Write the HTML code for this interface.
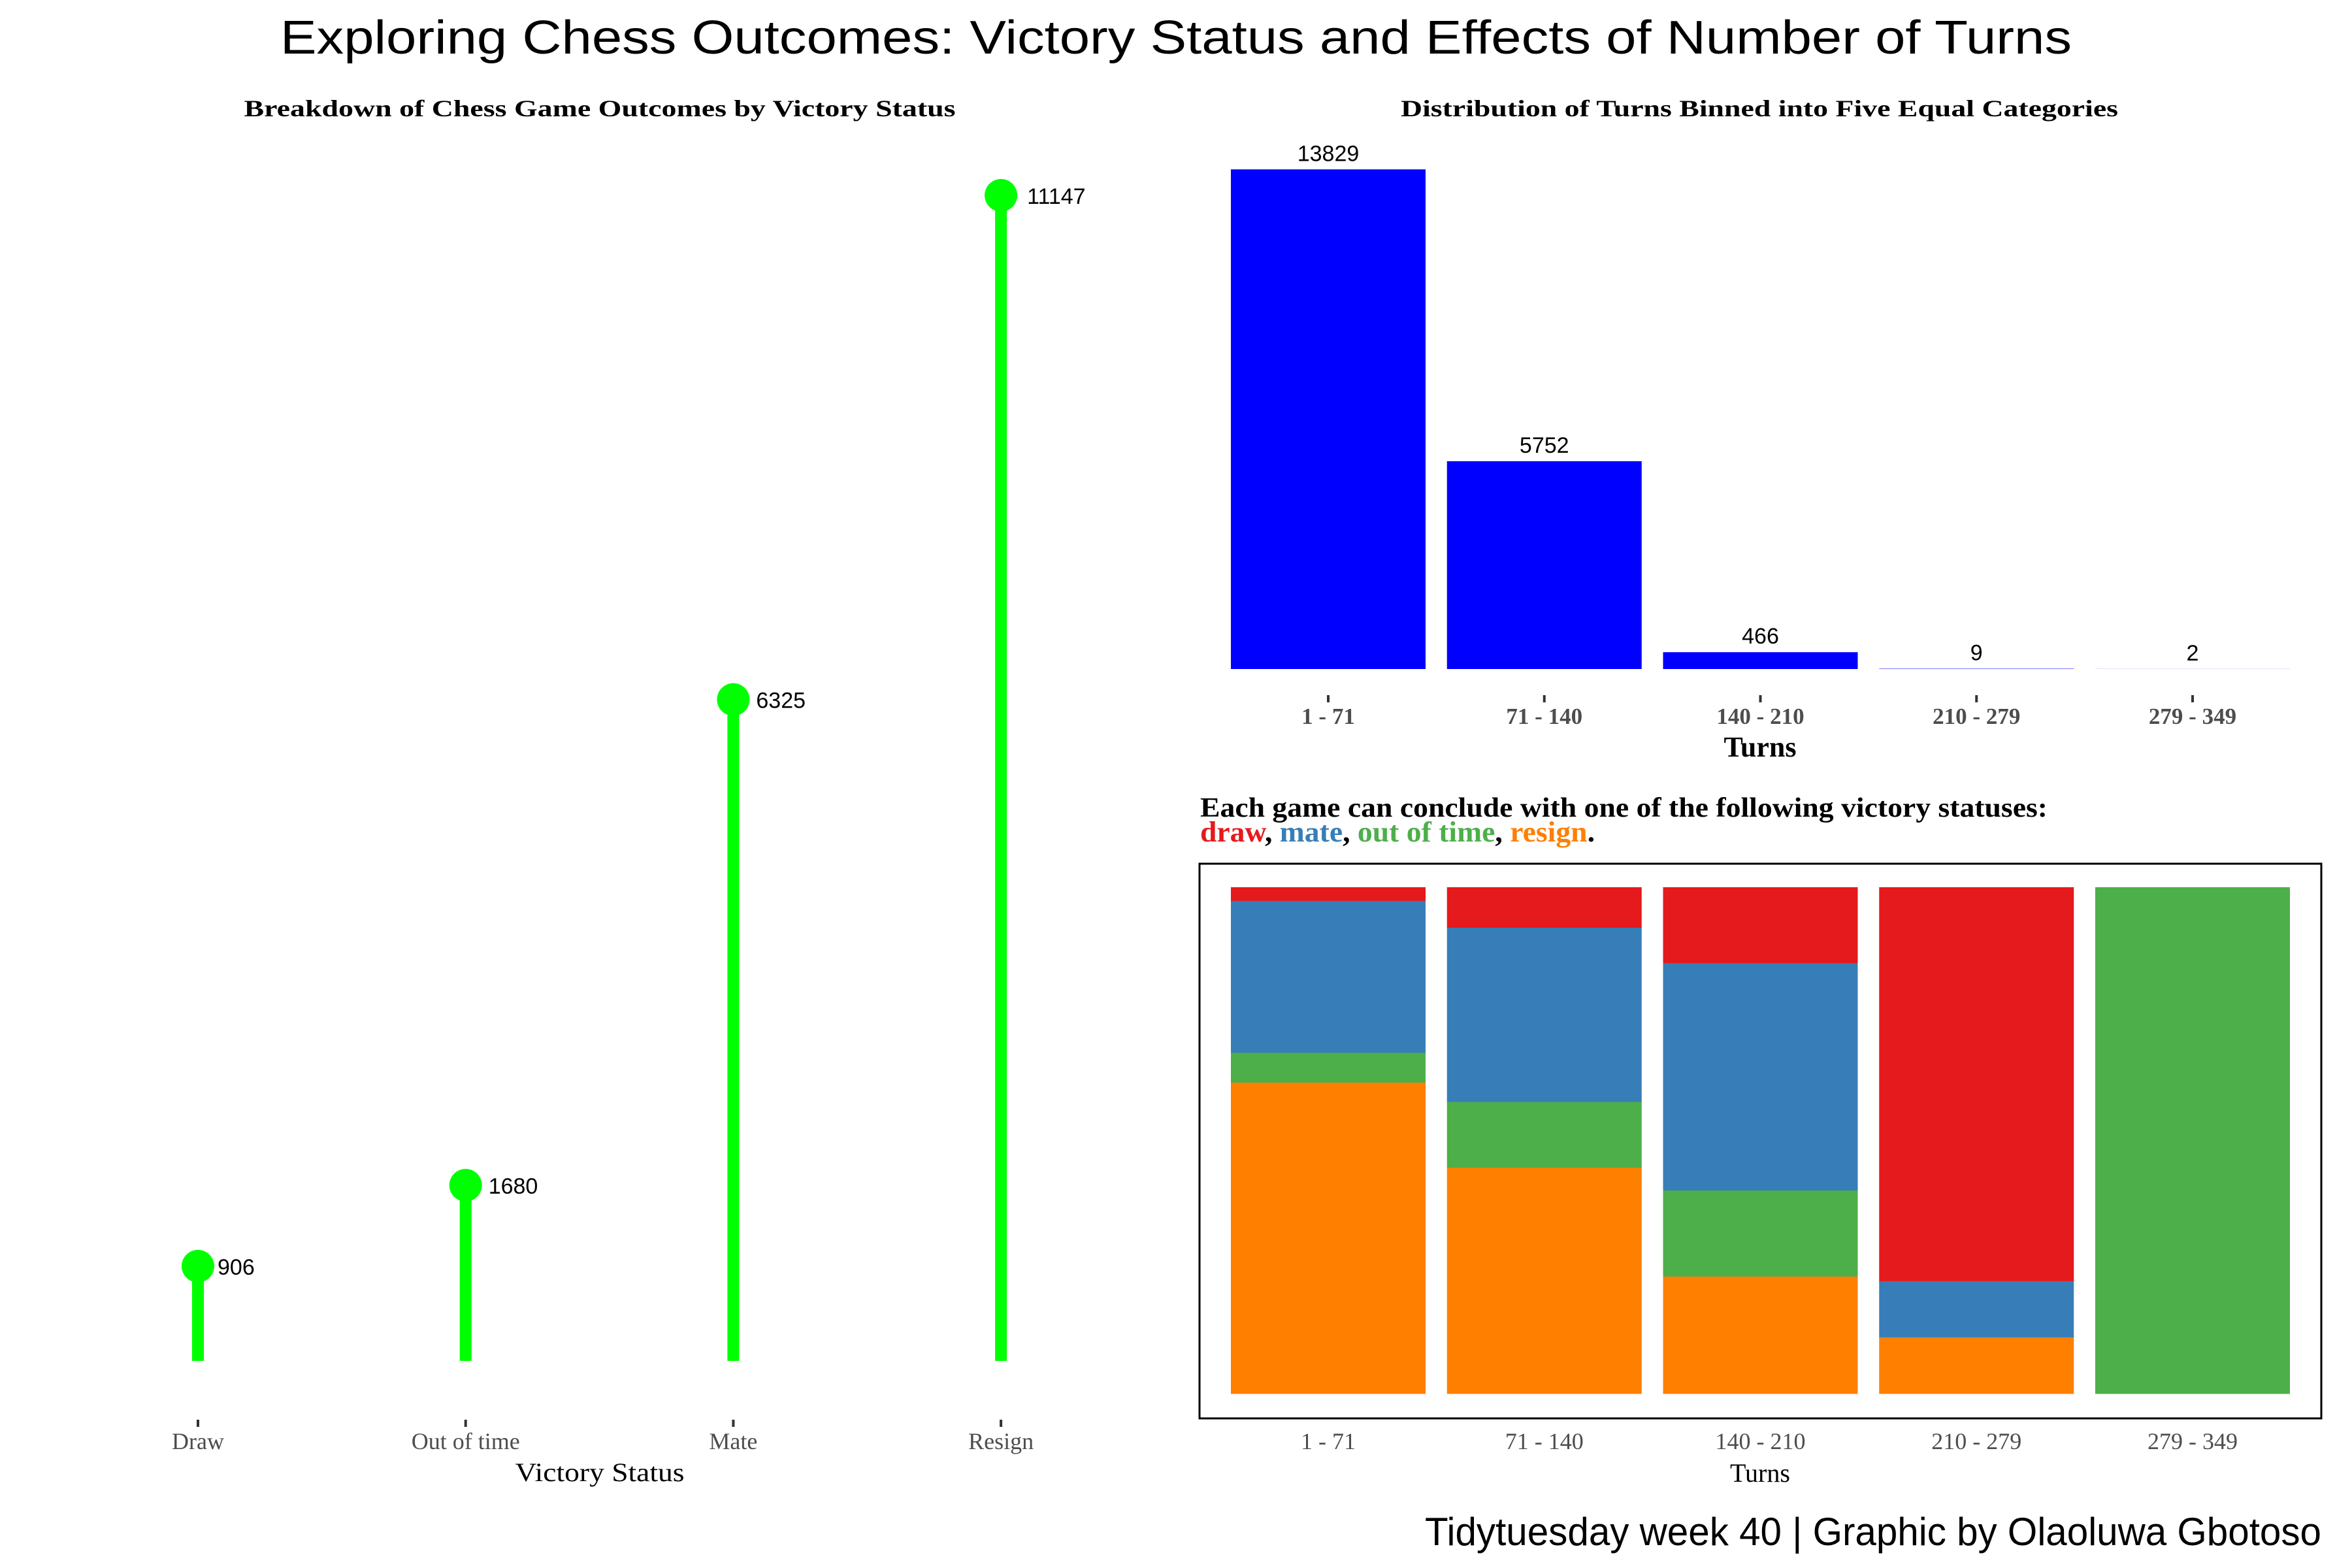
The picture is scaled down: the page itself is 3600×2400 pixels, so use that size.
<!DOCTYPE html>
<html><head><meta charset="utf-8"><style>
html,body{margin:0;padding:0;background:#fff}
svg{display:block}
</style></head><body>
<svg id="chart" width="3600" height="2400" viewBox="0 0 3600 2400" xmlns="http://www.w3.org/2000/svg">
<rect width="3600" height="2400" fill="#fff"/>
<text x="1800" y="82" text-anchor="middle" font-family="Liberation Sans, sans-serif" font-size="72" textLength="2742" lengthAdjust="spacingAndGlyphs">Exploring Chess Outcomes: Victory Status and Effects of Number of Turns</text>
<text x="918" y="178" text-anchor="middle" font-family="Liberation Serif, serif" font-weight="bold" font-size="36" textLength="1089" lengthAdjust="spacingAndGlyphs">Breakdown of Chess Game Outcomes by Victory Status</text>
<text x="2693" y="178" text-anchor="middle" font-family="Liberation Serif, serif" font-weight="bold" font-size="36" textLength="1098" lengthAdjust="spacingAndGlyphs">Distribution of Turns Binned into Five Equal Categories</text>
<g id="lolli"></g>
<text x="918" y="2267" text-anchor="middle" font-family="Liberation Serif, serif" font-size="40" textLength="259" lengthAdjust="spacingAndGlyphs">Victory Status</text>
<g id="hist"></g>
<text x="2694" y="1158" text-anchor="middle" font-family="Liberation Serif, serif" font-weight="bold" font-size="44">Turns</text>
<text x="1837" y="1250" font-family="Liberation Serif, serif" font-weight="bold" font-size="42" textLength="1297" lengthAdjust="spacingAndGlyphs">Each game can conclude with one of the following victory statuses:</text>
<text x="1837" y="1288" font-family="Liberation Serif, serif" font-weight="bold" font-size="44" textLength="604" lengthAdjust="spacingAndGlyphs"><tspan fill="#E41A1C">draw</tspan>, <tspan fill="#377EB8">mate</tspan>, <tspan fill="#4DAF4A">out of time</tspan>, <tspan fill="#FF7F00">resign</tspan>.</text>
<rect x="1836" y="1322" width="1717" height="849" fill="none" stroke="#000" stroke-width="3"/>
<g id="stack"></g>
<text x="2694" y="2268" text-anchor="middle" font-family="Liberation Serif, serif" font-size="40">Turns</text>
<text x="3553" y="2365" text-anchor="end" font-family="Liberation Sans, sans-serif" font-size="60" textLength="1372" lengthAdjust="spacingAndGlyphs">Tidytuesday week 40 | Graphic by Olaoluwa Gbotoso</text>
</svg>
<script>
const statusLabels = ["Draw", "Out of time", "Mate", "Resign"];
const statusCounts = [906, 1680, 6325, 11147];
const binLabels = ["1 - 71", "71 - 140", "140 - 210", "210 - 279", "279 - 349"];
const binCounts = [13829, 5752, 466, 9, 2];
const stackKeys = ["draw", "mate", "outoftime", "resign"];
const drawPct = [2.7, 8.0, 15.0, 77.8, 0];
const matePct = [30.0, 34.4, 44.9, 11.1, 0];
const outOfTimePct = [5.9, 13.0, 17.0, 0, 100];
const resignPct = [61.4, 44.6, 23.1, 11.1, 0];

const NS = "http://www.w3.org/2000/svg";
function mk(tag, attrs, parent){const e=document.createElementNS(NS,tag);for(const k in attrs)e.setAttribute(k,attrs[k]);parent.appendChild(e);return e;}

// Lollipop
const lolli = document.getElementById('lolli');
const lx = i => 303 + i * 409.7;
const ly = v => 2083 - v * 0.16005;
statusLabels.forEach((lab, i) => {
  const x = lx(i), v = statusCounts[i];
  const stem = mk('line', {x1:x, x2:x, y1:ly(0), y2:ly(v), stroke:'#00FF00', 'stroke-width':18}, lolli);
  
  
  const dot = mk('circle', {cx:x, cy:ly(v), r:25, fill:'#00FF00'}, lolli);
  
  
  const digits = String(v).length;
  const t = mk('text', {x:x + 15 + digits * 5, y:ly(v)+13, 'font-family':'Liberation Sans, sans-serif', 'font-size':34, fill:'#000'}, lolli);
  t.textContent = v;
  
  
  const tk = mk('line', {x1:x, x2:x, y1:2173, y2:2184, stroke:'#333', 'stroke-width':4}, lolli);
  
  
  const tl = mk('text', {x:x, y:2218, 'text-anchor':'middle', 'font-family':'Liberation Serif, serif', 'font-size':36, fill:'#4D4D4D'}, lolli);
  tl.textContent = lab;
  
  
});

// Histogram
const hist = document.getElementById('hist');
const bx = i => 1884 + i * 330.75;
const bw = 298;
const hy = v => 1024 - v * 0.0553;
binLabels.forEach((lab, i) => {
  const v = binCounts[i], x = bx(i);
  const r = mk('rect', {x:x, y:hy(v), width:bw, height:1024-hy(v), fill:'#0000FF'}, hist);
  
  
  const t = mk('text', {x:x+bw/2, y:hy(v)-13, 'text-anchor':'middle', 'font-family':'Liberation Sans, sans-serif', 'font-size':34, fill:'#000'}, hist);
  t.textContent = v;
  
  
  const tk = mk('line', {x1:x+bw/2, x2:x+bw/2, y1:1064, y2:1075, stroke:'#333', 'stroke-width':4}, hist);
  
  
  const tl = mk('text', {x:x+bw/2, y:1108, 'text-anchor':'middle', 'font-family':'Liberation Serif, serif', 'font-weight':'bold', 'font-size':35, fill:'#4D4D4D'}, hist);
  tl.textContent = lab;
  
  
});

// Stacked proportions (top to bottom: draw, mate, out of time, resign)
const stack = document.getElementById('stack');
const series = [drawPct, matePct, outOfTimePct, resignPct];
const colors = ['#E41A1C', '#377EB8', '#4DAF4A', '#FF7F00'];
const sTop = 1358, sBot = 2133;
const sy = p => sTop + (p / 100) * (sBot - sTop);
binLabels.forEach((lab, i) => {
  const x = bx(i);
  const total = series.reduce((a, s) => a + s[i], 0);
  let cum = 0;
  series.forEach((s, k) => {
    const p = s[i] / total * 100;
    if (p > 0) {
      const r = mk('rect', {x:x, y:sy(cum), width:bw, height:sy(cum+p)-sy(cum)+0.5, fill:colors[k]}, stack);
      
      
    }
    cum += p;
  });
  const tl = mk('text', {x:x+bw/2, y:2218, 'text-anchor':'middle', 'font-family':'Liberation Serif, serif', 'font-size':36, fill:'#4D4D4D'}, stack);
  tl.textContent = lab;
  
  
});
</script>
</body></html>
